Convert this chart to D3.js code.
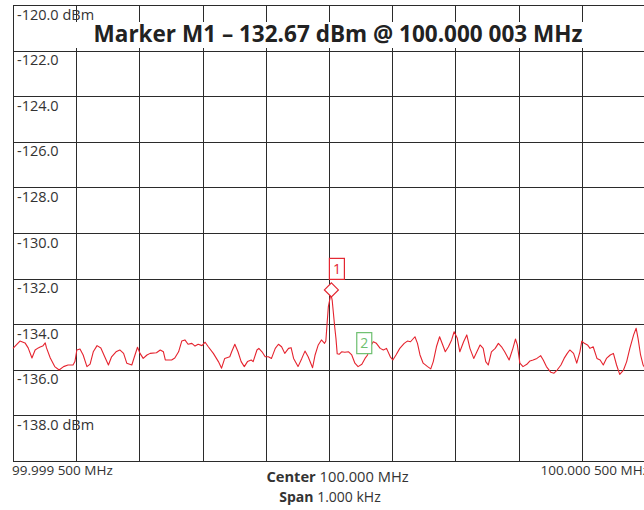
<!DOCTYPE html>
<html>
<head>
<meta charset="utf-8">
<script src="https://cdn.jsdelivr.net/npm/d3@7"></script>
<style>
  body { margin: 0; background: #fff; }
  svg { display: block; font-family: "Open Sans", sans-serif; }
  .grid line { stroke: #2b2b2b; stroke-width: 1; shape-rendering: crispEdges; }
  .lbl { font-size: 13.5px; fill: #333; }
  .ylab { font-size: 14.5px; }
</style>
</head>
<body>
<svg id="chart" width="644" height="510"></svg>
<script>
// frequency axis: offset from centre (Hz), level axis in dBm
var centerLabel = '100.000 MHz';
var spanLabel = '1.000 kHz';
var startLabel = '99.999 500 MHz';
var stopLabel = '100.000 500 MHz';
var titleText = 'Marker M1 \u2013 132.67 dBm @ 100.000 003 MHz';

var freqTicks = [-500, -400, -300, -200, -100, 0, 100, 200, 300, 400, 500];
var levelTicks = [-120, -122, -124, -126, -128, -130, -132, -134, -136, -138, -140];
var levelLabels = ['-120.0 dBm', '-122.0', '-124.0', '-126.0', '-128.0', '-130.0',
                   '-132.0', '-134.0', '-136.0', '-138.0 dBm', ''];

// trace, offset Hz / dBm
var traceHz = [-500, -489, -481, -476, -470, -465, -460, -457, -453, -449,
  -447, -441, -434, -427, -420, -413, -405, -402, -399, -394,
  -389, -383, -378, -373, -367, -361, -354, -349, -344, -337,
  -331, -325, -320, -312, -307, -303, -299, -294, -288, -283,
  -273, -267, -262, -259, -249, -244, -238, -233, -228, -223,
  -217, -212, -207, -201, -196, -191, -183, -175, -170, -165,
  -157, -154, -149, -144, -139, -134, -129, -123, -120, -114,
  -111, -106, -101, -96, -91, -85, -80, -75, -70, -64,
  -60, -56, -49, -43, -38, -33, -26, -22, -17, -12,
  -7, -5, -3, -1, 3, 5, 7, 9, 11, 13,
  16, 20, 25, 31, 36, 41, 46, 52, 57, 61,
  64, 70, 75, 81, 86, 91, 97, 101, 106, 112,
  119, 124, 129, 136, 140, 144, 149, 156, 161, 165,
  170, 175, 180, 184, 189, 194, 198, 203, 207, 213,
  218, 223, 229, 234, 239, 244, 248, 252, 257, 263,
  268, 273, 278, 285, 291, 295, 298, 302, 307, 313,
  318, 323, 329, 335, 339, 344, 351, 356, 361, 367,
  372, 377, 381, 387, 392, 397, 400, 404, 409, 413,
  418, 424, 429, 434, 439, 445, 450, 455, 460, 466,
  471, 476, 482, 486, 489, 493, 497, 500];
var traceDbm = [-135.06, -134.74, -134.82, -135.04, -135.48, -135.13, -135.04, -135.00, -134.96, -134.82,
  -135.04, -135.48, -135.86, -136.01, -135.86, -135.79, -135.79, -135.64, -135.13, -135.09,
  -135.35, -135.86, -135.75, -135.21, -134.94, -135.04, -135.48, -135.79, -135.43, -135.21,
  -135.13, -135.28, -135.71, -135.79, -135.35, -135.01, -135.28, -135.50, -135.35, -135.28,
  -135.25, -135.13, -135.21, -135.57, -135.57, -135.48, -135.21, -134.74, -134.69, -134.88,
  -134.84, -134.96, -134.88, -134.94, -134.79, -134.99, -135.28, -135.64, -135.93, -135.50,
  -135.43, -135.21, -134.88, -135.21, -135.64, -135.86, -135.64, -135.57, -135.64, -135.13,
  -135.06, -135.21, -135.43, -135.43, -135.50, -135.06, -134.88, -134.99, -135.28, -135.06,
  -135.03, -135.50, -135.86, -135.50, -135.18, -135.43, -135.91, -135.35, -134.91, -134.69,
  -134.84, -134.74, -133.96, -133.23, -132.67, -132.94, -133.52, -134.11, -134.62, -135.30,
  -135.32, -135.21, -135.23, -135.21, -135.35, -135.71, -135.86, -135.76, -135.50, -135.35,
  -135.04, -134.77, -134.84, -135.06, -135.13, -135.06, -135.43, -135.57, -135.35, -135.06,
  -134.84, -134.74, -134.77, -134.55, -134.84, -135.35, -135.71, -135.86, -135.96, -135.64,
  -134.99, -134.55, -134.91, -135.21, -134.99, -134.69, -134.33, -134.62, -135.21, -134.77,
  -134.47, -135.06, -135.50, -135.21, -134.91, -135.06, -135.64, -135.79, -135.21, -135.06,
  -134.84, -134.99, -135.21, -135.57, -135.06, -134.65, -134.91, -135.71, -135.86, -135.76,
  -135.61, -135.57, -135.50, -135.38, -135.57, -135.86, -136.11, -136.15, -136.01, -135.79,
  -135.50, -135.28, -135.13, -135.28, -135.71, -135.21, -134.74, -134.84, -134.91, -135.06,
  -134.99, -135.50, -135.57, -135.79, -135.50, -135.35, -135.28, -135.79, -136.20, -136.01,
  -135.64, -135.06, -134.47, -134.18, -134.62, -135.35, -135.79, -135.92];

var markerIds = ['1', '2'];
var markerHz = [3, 55];
var markerDbm = [-132.67, -135.62];
var markerColors = ['#e32530', '#6dbf6f'];

(function() {
// layout
var plotLeft = 13, plotRight = 645, plotTop = 5, plotBottom = 461;
var x = d3.scaleLinear().domain([-500, 500]).range([plotLeft, plotRight]);
var y = d3.scaleLinear().domain([-140, -120]).range([plotBottom, plotTop]);

var svg = d3.select('#chart');

// grid
var grid = svg.append('g').attr('class', 'grid');
grid.selectAll('line.v')
  .data(freqTicks)
  .enter().append('line')
    .attr('class', 'v')
    .attr('x1', function(d) { return Math.round(x(d)) + 0.5; })
    .attr('x2', function(d) { return Math.round(x(d)) + 0.5; })
    .attr('y1', plotTop)
    .attr('y2', plotBottom);
grid.selectAll('line.h')
  .data(levelTicks)
  .enter().append('line')
    .attr('class', 'h')
    .attr('x1', plotLeft)
    .attr('x2', plotRight)
    .attr('y1', function(d) { return Math.round(y(d)) + 0.5; })
    .attr('y2', function(d) { return Math.round(y(d)) + 0.5; });

// title with white backing
var titleG = svg.append('g');
var titleRect = titleG.append('rect').attr('fill', '#fff');
var title = titleG.append('text')
  .attr('x', 338)
  .attr('y', 42)
  .attr('text-anchor', 'middle')
  .style('font-size', '21px')
  .style('font-weight', 700)
  .style('fill', '#222')
  .text(titleText);
var tw = title.node().getComputedTextLength();
if (tw > 0) title.style('font-size', (21 * 489 / tw) + 'px');
var bb = title.node().getBBox();
titleRect.attr('x', bb.x - 18).attr('y', 22).attr('width', bb.width + 36).attr('height', 26);

// level labels
svg.selectAll('text.ylab')
  .data(levelTicks.slice(0, 10))
  .enter().append('text')
    .attr('class', 'lbl ylab')
    .attr('x', 17)
    .attr('y', function(d) { return y(d) + 14.5; })
    .text(function(d, i) { return levelLabels[i]; });

// trace
var trace = d3.zip(traceHz, traceDbm);
svg.append('path')
  .datum(trace)
  .attr('fill', 'none')
  .attr('stroke', '#e5232e')
  .attr('stroke-width', 1.1)
  .attr('stroke-linejoin', 'round')
  .attr('d', d3.line()
    .x(function(d) { return x(d[0]); })
    .y(function(d) { return y(d[1]); }));

// markers
var m1x = x(markerHz[0]), m1y = y(markerDbm[0]);
svg.append('path')
  .attr('d', 'M0,-7L7,0L0,7L-7,0Z')
  .attr('transform', 'translate(' + (m1x + 0.5) + ',' + (m1y - 4) + ')')
  .attr('fill', '#fff')
  .attr('stroke', markerColors[0])
  .attr('stroke-width', 1.2);

var boxPos = [[m1x - 2, m1y - 36], [x(markerHz[1]) - 7.5, y(markerDbm[1]) - 29]];
markerIds.forEach(function(id, i) {
  var g = svg.append('g').attr('transform', 'translate(' + boxPos[i][0] + ',' + boxPos[i][1] + ')');
  g.append('rect')
    .attr('x', 0.5).attr('y', 0.5)
    .attr('width', 15).attr('height', 21)
    .attr('fill', '#fff')
    .attr('stroke', markerColors[i])
    .attr('stroke-width', 1.2);
  g.append('text')
    .attr('x', 8)
    .attr('y', 16)
    .attr('text-anchor', 'middle')
    .style('font-size', '14px')
    .style('fill', markerColors[i])
    .text(id);
});

// frequency labels
svg.append('text')
  .attr('class', 'lbl')
  .attr('x', plotLeft - 1)
  .attr('y', 475)
  .text(startLabel);
svg.append('text')
  .attr('class', 'lbl')
  .attr('x', 649)
  .attr('y', 475)
  .attr('text-anchor', 'end')
  .text(stopLabel);

var c = svg.append('text')
  .attr('class', 'lbl')
  .attr('x', 337.5)
  .attr('y', 482)
  .attr('text-anchor', 'middle')
  .style('font-size', '14.7px');
c.append('tspan').style('font-weight', 700).text('Center');
c.append('tspan').text(' ' + centerLabel);

var s = svg.append('text')
  .attr('class', 'lbl')
  .attr('x', 330)
  .attr('y', 502)
  .attr('text-anchor', 'middle')
  .style('font-size', '14px');
s.append('tspan').style('font-weight', 700).text('Span');
s.append('tspan').text(' ' + spanLabel);
})();
</script>
</body>
</html>
